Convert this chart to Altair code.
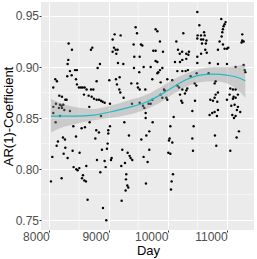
import altair as alt
import pandas as pd

# ---- scatter data (Day, AR(1)-coefficient) ----
day = [
    8326, 8382, 8703, 8725, 8320, 8309, 8854, 8348, 8303, 8377, 8433, 8466, 8815, 8067, 8101, 8129,
    8450, 8466, 8500, 8534, 8562, 8596, 8629, 8703, 8742, 8585, 8663, 8714, 8753, 8798, 8837, 8871,
    8899, 8933, 8798, 8214, 8169, 8270, 8292, 8180, 8208, 8236, 8163, 8214, 8253, 8067, 8067, 8112,
    8674, 8348, 8180,
    8107, 8405, 8545, 8601, 8680, 8776, 8450, 8230, 8264, 8146, 8124, 8270, 8051, 8242, 8309, 8393,
    8511, 8624, 8410, 8455, 8478, 8506, 8568, 8551, 8590, 8618, 8028, 8208, 8646,
    9102, 9203, 9068, 9090, 9068, 9118, 9130, 9152, 9158, 9248, 9012, 9124, 9186, 9141, 9180, 9197,
    9253, 9023, 8871,
    9265, 9625, 9686, 8792, 8837, 8995, 9023, 8995, 9343, 8984, 8972, 8888, 9231, 9321, 9354, 9371,
    9399, 9590, 9686, 9658, 8804, 8933, 9051, 9040, 9214, 9276, 8950, 8860, 9298, 9293, 9315, 9332,
    9287, 9630, 9220, 8905, 8961, 9552, 9636,
    10029, 10018, 10074, 10412, 10007, 10041, 10423, 10086, 10063, 10052,
    11198, 10793, 11159, 10816, 11052,
    9456, 9479, 9422, 9546, 9569, 9434, 9524, 9591, 9383, 9484, 9524, 9619, 9394, 9524, 9580, 9602,
    9675, 9625, 9428, 9517, 9495, 9743,
    9793, 9822, 10260, 10530, 10501, 10558, 10610, 10620, 10495, 10560, 10595, 10650, 10640, 10575,
    9866, 10142, 9754, 9793, 9917, 10170, 10200, 10240, 10310, 10345, 10355, 10560, 10630, 10655,
    9793, 9822, 10119, 10204, 10243, 10310, 10496, 10496, 9709, 9906, 9866, 9838, 9822, 10159, 10243,
    10299, 10338, 10485, 9737, 9990, 9878, 10074, 10383, 10159, 10187, 10243, 10327, 10310, 10288,
    10451, 10479, 9934, 9945, 9878, 9906, 9973, 9990, 9737, 9709, 10204, 10226, 10243, 10457, 10412,
    10041, 10097, 10434,
    10900, 10973, 10956, 10939, 10928, 10917, 10906, 11254, 11254, 11277, 11243, 10872, 10928, 10956,
    10996, 11018, 10844, 10703, 10844, 10996, 11142, 11277, 11294, 11305, 10687, 10788, 10805, 11052,
    11097, 11142, 11041, 11108, 11181, 10715, 10760, 10788, 10805, 10844, 10833, 10996, 11097, 11142,
    11069, 11125, 11181, 11164, 11142, 10703, 10748, 10788, 10844, 10827, 11086, 11220, 11114, 10496,
]
ar = [
    0.923, 0.917, 0.917, 0.919, 0.907, 0.903, 0.903, 0.896, 0.891, 0.892, 0.897, 0.897, 0.899, 0.880, 0.888, 0.886,
    0.888, 0.883, 0.880, 0.880, 0.880, 0.880, 0.878, 0.878, 0.878, 0.873, 0.872, 0.871, 0.869, 0.868, 0.868, 0.867,
    0.866, 0.865, 0.886, 0.871, 0.872, 0.868, 0.868, 0.863, 0.862, 0.863, 0.860, 0.860, 0.858, 0.861, 0.855, 0.864,
    0.861, 0.857, 0.852,
    0.846, 0.842, 0.840, 0.841, 0.846, 0.830, 0.832, 0.831, 0.829, 0.827, 0.823, 0.821, 0.812, 0.815, 0.811, 0.818,
    0.816, 0.803, 0.802, 0.800, 0.799, 0.801, 0.794, 0.791, 0.789, 0.788, 0.788, 0.791, 0.770,
    0.932, 0.931, 0.927, 0.919, 0.915, 0.917, 0.913, 0.917, 0.904, 0.903, 0.887, 0.888, 0.890, 0.883, 0.878, 0.875,
    0.870, 0.864, 0.852,
    0.846, 0.850, 0.837, 0.838, 0.836, 0.838, 0.842, 0.835, 0.833, 0.825, 0.820, 0.819, 0.819, 0.816, 0.813, 0.811,
    0.809, 0.812, 0.819, 0.807, 0.809, 0.808, 0.811, 0.809, 0.803, 0.806, 0.802, 0.797, 0.795, 0.790, 0.784, 0.782,
    0.779, 0.786, 0.769, 0.762, 0.750, 0.829, 0.833,
    0.830, 0.828, 0.826, 0.830, 0.816, 0.815, 0.818, 0.795, 0.788, 0.780,
    0.837, 0.833, 0.831, 0.823, 0.818,
    0.939, 0.933, 0.922, 0.922, 0.921, 0.910, 0.910, 0.900, 0.884, 0.884, 0.878, 0.878, 0.864, 0.865, 0.862, 0.860,
    0.864, 0.855, 0.899, 0.895, 0.880, 0.846,
    0.937, 0.935, 0.933, 0.941, 0.931, 0.931, 0.934, 0.931, 0.928, 0.927, 0.927, 0.926, 0.923, 0.923,
    0.925, 0.925, 0.916, 0.916, 0.915, 0.917, 0.913, 0.915, 0.913, 0.912, 0.915, 0.913, 0.917, 0.914,
    0.906, 0.905, 0.905, 0.905, 0.907, 0.908, 0.910, 0.904, 0.900, 0.899, 0.897, 0.895, 0.894, 0.896, 0.896,
    0.896, 0.897, 0.894, 0.888, 0.888, 0.885, 0.887, 0.891, 0.882, 0.880, 0.878, 0.879, 0.877, 0.874,
    0.884, 0.882, 0.878, 0.877, 0.873, 0.870, 0.870, 0.868, 0.868, 0.864, 0.873, 0.867, 0.865, 0.867, 0.857,
    0.842, 0.851, 0.842,
    0.947, 0.944, 0.942, 0.940, 0.937, 0.934, 0.930, 0.932, 0.926, 0.925, 0.924, 0.925, 0.922, 0.918,
    0.918, 0.919, 0.917, 0.904, 0.903, 0.903, 0.900, 0.902, 0.897, 0.895, 0.894, 0.884, 0.886, 0.879,
    0.878, 0.878, 0.873, 0.871, 0.873, 0.868, 0.867, 0.870, 0.873, 0.875, 0.866, 0.868, 0.869, 0.870,
    0.862, 0.863, 0.861, 0.858, 0.852, 0.853, 0.855, 0.856, 0.858, 0.852, 0.853, 0.856, 0.850, 0.954,
]

# ---- smoother (fit and confidence band) ----
smooth_day = [8030, 8180, 8416, 8754, 9024, 9310, 9647, 9866, 10102, 10321, 10541, 10777, 10996, 11165, 11305]
smooth_fit = [0.852, 0.852, 0.852, 0.853, 0.856, 0.860, 0.866, 0.8725, 0.881, 0.888, 0.892, 0.893, 0.892, 0.890, 0.8866]
smooth_lo = [0.836, 0.840, 0.844, 0.848, 0.850, 0.853, 0.859, 0.865, 0.874, 0.881, 0.885, 0.886, 0.884, 0.878, 0.870]
smooth_hi = [0.869, 0.865, 0.861, 0.859, 0.862, 0.867, 0.873, 0.880, 0.888, 0.894, 0.898, 0.900, 0.900, 0.901, 0.903]

x_ticks = [8000, 9000, 10000, 11000]
y_ticks = [0.75, 0.80, 0.85, 0.90, 0.95]
x_minor = [8500, 9500, 10500]
y_minor = [0.775, 0.825, 0.875, 0.925]

pts = pd.DataFrame({"Day": day, "AR": ar})
sm = pd.DataFrame({"Day": smooth_day, "fit": smooth_fit, "lo": smooth_lo, "hi": smooth_hi})

xs = alt.Scale(domain=[7860, 11452], nice=False, zero=False)
ys = alt.Scale(domain=[0.7404, 0.9637], nice=False, zero=False)

FONT = "Liberation Sans"

x_axis = alt.Axis(
    values=x_ticks, format="d", title="Day", labelAlign="right", labelBaseline="top",
    labelPadding=-1, tickSize=2, titleX=107, titleY=24.5, titleBaseline="alphabetic",
    titleAnchor="middle",
)
y_axis = alt.Axis(
    values=y_ticks, format=".2f", title="AR(1)-Coefficient", labelAlign="right",
    labelBaseline="middle", labelPadding=0.5, tickSize=2, titleX=-28.5, titleY=114,
    titleAngle=-90, titleBaseline="alphabetic", titleAlign="center",
)

minor_v = alt.Chart(pd.DataFrame({"v": x_minor})).mark_rule(color="white", strokeWidth=0.55).encode(
    x=alt.X("v:Q", scale=xs, axis=x_axis)
)
minor_h = alt.Chart(pd.DataFrame({"v": y_minor})).mark_rule(color="white", strokeWidth=0.55).encode(
    y=alt.Y("v:Q", scale=ys, axis=y_axis)
)
points = alt.Chart(pts).mark_circle(color="black", size=6, opacity=1).encode(
    x=alt.X("Day:Q", scale=xs, axis=x_axis),
    y=alt.Y("AR:Q", scale=ys, axis=y_axis),
)
band = alt.Chart(sm).mark_area(color="#999999", opacity=0.4, interpolate="monotone").encode(
    x=alt.X("Day:Q", scale=xs, axis=x_axis),
    y=alt.Y("lo:Q", scale=ys, axis=y_axis),
    y2="hi:Q",
)
line = alt.Chart(sm).mark_line(color="#1DBDC6", strokeWidth=1.2, interpolate="monotone").encode(
    x=alt.X("Day:Q", scale=xs, axis=x_axis),
    y=alt.Y("fit:Q", scale=ys, axis=y_axis),
)

chart = (
    alt.layer(minor_v, minor_h, points, band, line)
    .properties(
        width=213,
        height=228,
        padding={"left": 41, "top": 2, "right": 3, "bottom": 29},
        autosize=alt.AutoSizeParams(type="none"),
        background="white",
    )
    .configure_view(fill="#EBEBEB", strokeWidth=0)
    .configure_axis(
        grid=True, gridColor="white", gridWidth=1.1, domain=False,
        tickColor="#333333", tickWidth=1,
        labelFont=FONT, labelFontSize=12, labelColor="#4D4D4D",
        titleFont=FONT, titleFontSize=13, titleColor="black", titleFontWeight="normal",
    )
)

chart.save(
    "out.html",
    embed_options={"renderer": "svg", "actions": False,
                   "defaultStyle": "body{margin:0;overflow:hidden}"},
)
